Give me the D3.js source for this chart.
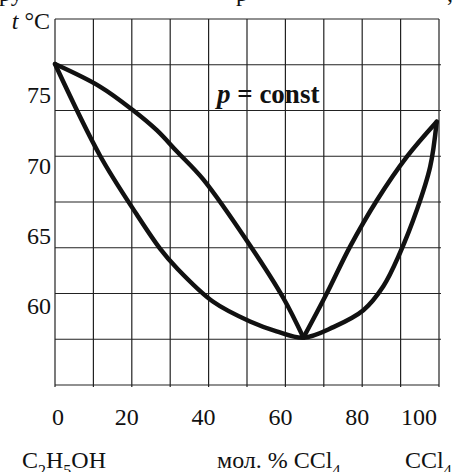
<!DOCTYPE html>
<head>
  <meta charset="utf-8">
  <script src="https://d3js.org/d3.v7.min.js"></script>
  <style>
body { margin: 0; background: #fff; }
svg { display: block; }
text { font-family: "Liberation Serif", "Times New Roman", serif; fill: #111; }
  </style>
</head>
<body>
<svg width="457" height="472"></svg>
  <script>
// mol. % CCl4 vs t, degC
var liquid = [[0, 77.2], [11.7, 70.7], [21.3, 66.5], [27.3, 64.1], [31.7, 62.7], [41.2, 60.3],
  [50.8, 58.9], [57.7, 58.2], [64.7, 57.75], [72.5, 58.5], [80.3, 59.7], [85.5, 61.4],
  [89.8, 63.75], [94.2, 66.8], [97.7, 69.9], [99.4, 73.1]];
var vaporLeft = [[0, 77.2], [11.7, 75.6], [20.4, 73.9], [26.5, 72.5], [31.7, 71.0],
  [38.6, 69.0], [50.8, 64.3], [59.5, 60.55], [64.7, 57.75]];
var vaporRight = [[64.7, 57.75], [70.8, 60.9], [76.8, 64.2], [83.8, 67.5], [91.6, 70.6],
  [99.4, 73.1]];
var xTicks = [0, 20, 40, 60, 80, 100];
var yTicks = [75, 70, 65, 60];

var svg = d3.select("svg");

var x = d3.scaleLinear().domain([0, 100]).range([55, 439]);
var y = d3.scaleLinear().domain([75, 60]).range([95, 306]);
// the paper grid: 10 columns by 8 rows, not tied to the degree scale
var rows = d3.scaleLinear().domain([0, 8]).range([19, 385]);

// cut-off line of book text at the very top
svg.append("text")
    .attr("y", 1)
    .attr("font-size", 24)
    .selectAll("tspan")
    .data([["ру", -1], ["р", 236], [",", 447]])
    .enter().append("tspan")
    .attr("x", function(d) { return d[1]; })
    .text(function(d) { return d[0]; });

var grid = svg.append("g")
    .attr("stroke", "#222")
    .attr("stroke-width", 1.2);

grid.selectAll("line.h")
  .data(d3.range(0, 9))
  .enter().append("line")
    .attr("class", "h")
    .attr("x1", x(0))
    .attr("x2", function(d, i) { return (i === 0 || i === 8) ? x(100) : x(100) + 2; })
    .attr("y1", rows)
    .attr("y2", rows);

grid.selectAll("line.v")
  .data(d3.range(0, 101, 10))
  .enter().append("line")
    .attr("class", "v")
    .attr("x1", x)
    .attr("x2", x)
    .attr("y1", rows(0))
    .attr("y2", rows(8) + 2);

var line = d3.line()
    .x(function(d) { return x(d[0]); })
    .y(function(d) { return y(d[1]); })
    .curve(d3.curveCatmullRom);

svg.selectAll("path.curve")
  .data([liquid, vaporLeft, vaporRight])
  .enter().append("path")
    .attr("class", "curve")
    .attr("d", line)
    .attr("fill", "none")
    .attr("stroke", "#111")
    .attr("stroke-width", 4.5)
    .attr("stroke-linejoin", "miter")
    .attr("stroke-linecap", "round");

// y labels
svg.selectAll("text.ylab")
  .data(yTicks)
  .enter().append("text")
    .attr("class", "ylab")
    .attr("x", 51)
    .attr("y", y)
    .attr("dy", "0.35em")
    .attr("text-anchor", "end")
    .attr("font-size", 24)
    .text(function(d) { return d; });

// x labels, edge ones kept inside the frame
svg.selectAll("text.xlab")
  .data(xTicks)
  .enter().append("text")
    .attr("class", "xlab")
    .attr("x", function(d, i) {
      if (i === 0) return x(d) - 3;
      if (i === xTicks.length - 1) return x(d) - 2;
      return x(d) - 5;
    })
    .attr("y", 425)
    .attr("text-anchor", function(d, i) {
      return i === 0 ? "start" : (i === xTicks.length - 1 ? "end" : "middle");
    })
    .attr("font-size", 24)
    .text(function(d) { return d; });

var tl = svg.append("text")
    .attr("x", 50)
    .attr("y", 29)
    .attr("text-anchor", "end")
    .attr("font-size", 24);
tl.append("tspan").attr("font-style", "italic").text("t");
tl.append("tspan").text(" °C");

var pc = svg.append("text")
    .attr("x", 217)
    .attr("y", 103)
    .attr("font-size", 27)
    .attr("font-weight", "bold");
pc.append("tspan").attr("font-style", "italic").text("p");
pc.append("tspan").text(" = const");

// bottom captions with subscripts
function formula(g, parts, xpos) {
  var t = g.append("text")
      .attr("x", xpos)
      .attr("y", 468)
      .attr("font-size", 24);
  parts.forEach(function(p) {
    if (p[1]) {
      t.append("tspan").attr("font-size", 16).attr("dy", 8).text(p[0]);
    } else {
      t.append("tspan").attr("dy", p[2] ? -8 : 0).text(p[0]);
    }
  });
}
formula(svg, [["C"], ["2", 1], ["H", 0, 1], ["5", 1], ["OH", 0, 1]], 22);
formula(svg, [["мол. % CCl"], ["4", 1]], 217);
formula(svg, [["CCl"], ["4", 1]], 405);
  </script>
</body>
